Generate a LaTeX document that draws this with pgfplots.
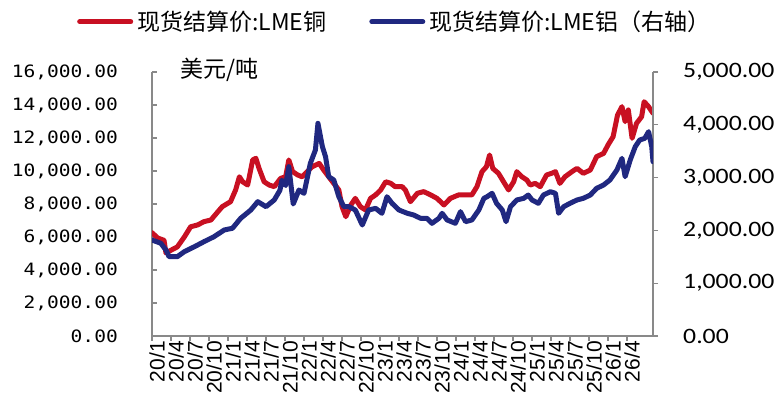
\documentclass[border=0pt]{standalone}
\usepackage{fontspec}
\usepackage{pgfplots}
\pgfplotsset{compat=1.18}
\usepackage{pgfplotstable}
\setmainfont{Liberation Sans}
\newfontfamily\cjk{Noto Sans CJK SC}
\newfontfamily\leftnum[FakeStretch=1.15]{DejaVu Sans Mono}
\newfontfamily\rightnum[FakeStretch=1.17]{Carlito}

\definecolor{cured}{RGB}{200,16,34}
\definecolor{alblue}{RGB}{32,40,128}
\definecolor{axisgray}{RGB}{137,137,137}

% x = months since 2020/1 (label every 3 months)
\pgfplotstableread{
m v
0 6260
0.9 5940
1.9 5800
2.2 5030
3.0 5200
4.0 5400
5.1 6000
6.1 6620
7.2 6730
8.2 6930
9.3 7030
10.4 7530
11.1 7840
12.4 8140
13.2 8850
13.8 9650
14.3 9350
15.1 9150
15.9 10670
16.4 10770
16.9 10160
17.7 9350
18.5 9150
19.3 9050
20.3 9550
21.1 9650
21.6 10670
22.2 9960
23.0 9760
23.7 9650
24.5 9960
25.3 10260
26.4 10460
27.1 10060
27.9 9650
28.7 9250
29.5 8850
30.0 7840
30.6 7230
31.4 7940
32.1 8340
32.9 7840
33.7 7640
34.5 8340
35.3 8550
36.1 8850
36.9 9350
37.7 9250
38.4 9050
39.5 9050
40.0 8850
40.8 8140
41.9 8650
42.9 8750
44.0 8550
45.0 8340
46.1 7940
47.1 8340
48.4 8550
49.7 8550
50.5 8550
51.3 9050
52.1 9960
52.8 10260
53.3 10970
53.8 10160
54.7 9860
55.5 9350
56.3 8850
57.1 9350
57.6 9960
58.4 9650
59.2 9450
59.7 9150
60.5 9250
61.3 9050
62.3 9760
63.1 9860
63.7 9960
64.4 9250
65.2 9650
66.3 9960
67.1 10160
68.1 9860
69.2 10060
70.2 10870
71.3 11070
72.0 11580
72.8 12080
73.5 13390
74.2 13900
74.7 12990
75.2 13700
75.8 11980
76.5 12890
77.3 13290
77.7 14200
78.4 13900
79.1 13500
}\copper

\pgfplotstableread{
m v
0 1818
1.4 1756
2.2 1629
2.7 1502
4.0 1502
5.1 1597
6.7 1691
8.2 1786
9.8 1881
11.4 2008
12.7 2040
14.0 2229
15.6 2386
16.7 2544
18.0 2449
19.3 2576
20.2 2760
20.5 2950
21.1 2850
21.6 3207
22.3 2500
23.2 2765
24.0 2702
25.0 3270
25.8 3523
26.2 4028
26.9 3586
27.4 3396
27.9 3017
28.7 2955
29.5 2638
30.3 2449
31.1 2449
32.1 2386
33.2 2102
34.2 2386
35.3 2418
36.3 2324
37.1 2638
37.9 2513
39.0 2386
40.3 2324
41.3 2292
42.4 2229
43.4 2229
44.2 2134
45.3 2229
45.8 2324
46.6 2197
47.9 2134
48.7 2355
49.5 2165
50.5 2197
51.6 2386
52.4 2608
52.9 2638
53.7 2702
54.4 2513
55.3 2386
55.9 2165
56.6 2449
57.6 2576
58.7 2608
59.4 2670
60.0 2576
61.0 2513
61.8 2670
62.9 2733
63.7 2702
64.2 2324
65.0 2449
66.0 2513
67.1 2576
68.1 2608
69.2 2670
70.2 2797
71.3 2860
72.3 2955
73.4 3144
74.2 3365
74.7 3017
75.5 3333
76.3 3586
77.0 3712
77.8 3744
78.4 3870
78.9 3586
79.1 3301
}\alum

\pgfplotsset{
  common/.style={
    at={(152pt,70pt)}, anchor=south west,
    width=501pt, height=264pt, scale only axis,
    xmin=0, xmax=79.1,
    scaled y ticks=false,
    axis line style={draw=axisgray, line width=1.5pt},
    tick style={draw=axisgray, line width=1.3pt},
    major tick length=5pt,
  },
}

\begin{document}
\begin{tikzpicture}

\begin{axis}[common,
  clip mode=individual,
  ymin=0, ymax=16000,
  axis x line*=bottom, axis y line*=left,
  xtick={0,3,...,75},
  xticklabels={20/1,20/4,20/7,20/10,21/1,21/4,21/7,21/10,22/1,22/4,22/7,22/10,23/1,23/4,23/7,23/10,24/1,24/4,24/7,24/10,25/1,25/4,25/7,25/10,26/1,26/4},
  xtick align=outside,
  xticklabel style={font=\fontsize{21}{21}\selectfont, rotate=90, anchor=east, inner sep=0pt, yshift=-5pt},
  ytick={0,2000,...,16000},
  yticklabels={0.00,{2,000.00},{4,000.00},{6,000.00},{8,000.00},{10,000.00},{12,000.00},{14,000.00},{16,000.00}},
  ytick align=inside,
  yticklabel style={font=\leftnum\fontsize{17}{17}\selectfont, anchor=east, inner sep=0pt, xshift=-34pt},
]
\addplot[color=cured, line width=5pt, line join=round, line cap=round] table[x=m, y=v] {\copper};
\node[anchor=west, font=\cjk\fontsize{23}{23}\selectfont, inner sep=0pt] at (rel axis cs:0.056,1.007) {美元/吨};
\end{axis}

\begin{axis}[common,
  ymin=0, ymax=5000,
  axis x line=none, axis y line*=right,
  ytick={0,1000,...,5000},
  yticklabels={0.00,{1,000.00},{2,000.00},{3,000.00},{4,000.00},{5,000.00}},
  ytick align=outside,
  yticklabel style={font=\rightnum\fontsize{22}{22}\selectfont, anchor=west, inner sep=0pt, xshift=25pt},
  legend columns=2,
  legend style={at={(axis description cs:-0.1497,1.1905)}, anchor=west,
    draw=none, fill=none, inner sep=0pt, column sep=0pt,
    font=\cjk\fontsize{23}{23}\selectfont, nodes={inner sep=0pt}},
  legend image code/.code={\draw[#1, line width=5pt, line cap=round] (2.5pt,0pt) -- (53.5pt,0pt);},
]
\addlegendimage{color=cured}
\addlegendentry{\hspace*{4pt}现货结算价:LME铜\hspace*{43pt}}
\addplot[color=alblue, line width=5pt, line join=round, line cap=round] table[x=m, y=v] {\alum};
\addlegendentry{\hspace*{4pt}现货结算价:LME铝（右轴）}
\end{axis}

\pgfresetboundingbox
\path[use as bounding box] (0,0) rectangle (776pt,406pt);
\end{tikzpicture}
\end{document}
